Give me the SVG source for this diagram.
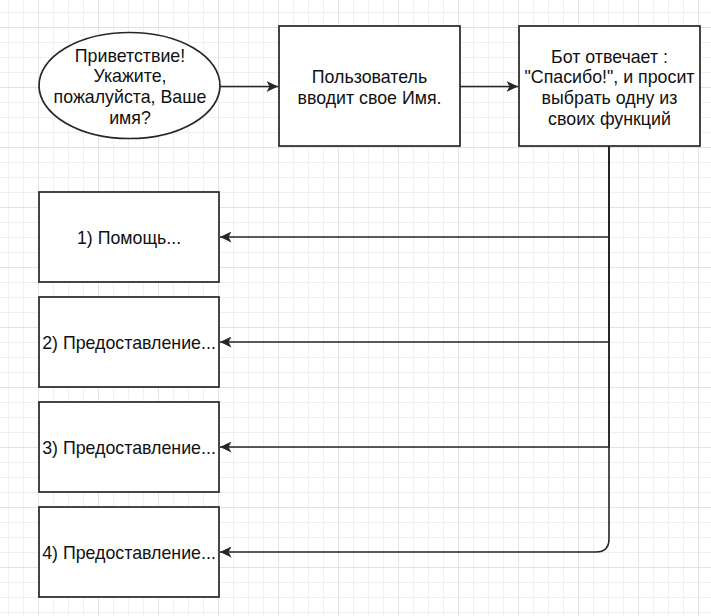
<svg xmlns="http://www.w3.org/2000/svg" width="711" height="616" viewBox="0 0 711 616">
<style>
.shape{fill:#ffffff;stroke:#262626;stroke-width:1.7}
.lbl{font-family:"Liberation Sans",Arial,sans-serif;font-size:17.8px;fill:#111111;text-anchor:middle}
.edge{fill:none;stroke:#262626;stroke-width:1.6}
</style>
<defs>
<pattern id="gMinor" x="8" y="12" width="15" height="15" patternUnits="userSpaceOnUse">
<rect x="0" y="0" width="1" height="15" fill="#efefef"/>
<rect x="0" y="0" width="15" height="1" fill="#efefef"/>
</pattern>
<pattern id="gMajor" x="38" y="27" width="60" height="60" patternUnits="userSpaceOnUse">
<rect x="0" y="0" width="1" height="60" fill="#e3e3e3"/>
<rect x="0" y="0" width="60" height="1" fill="#e3e3e3"/>
</pattern>
<marker id="arrow" viewBox="0 0 12 11" refX="11.5" refY="5.5" markerWidth="12" markerHeight="11" markerUnits="userSpaceOnUse" orient="auto">
<path d="M11.5,5.5 L0,0 L3,5.5 L0,11 Z" fill="#262626"/>
</marker>
</defs>
<rect width="711" height="616" fill="#ffffff"/>
<rect width="711" height="616" fill="url(#gMinor)"/>
<rect width="711" height="616" fill="url(#gMajor)"/>

<g id="connectors">
<path class="edge" d="M220,86.5 H278" marker-end="url(#arrow)"/>
<path class="edge" d="M460,86.5 H518" marker-end="url(#arrow)"/>
<path class="edge" d="M609,146 V237 H220" marker-end="url(#arrow)"/>
<path class="edge" d="M609,146 V342 H220" marker-end="url(#arrow)"/>
<path class="edge" d="M609,146 V447 H220" marker-end="url(#arrow)"/>
<path class="edge" d="M609,146 V539 Q609,552 596,552 H220" marker-end="url(#arrow)"/>
</g>

<g id="node-greeting">
<ellipse class="shape" cx="129.5" cy="85.5" rx="90.5" ry="53"/>
<text class="lbl" x="130" y="61.7">Приветствие!</text>
<text class="lbl" x="130" y="82.4">Укажите,</text>
<text class="lbl" x="130" y="103.1">пожалуйста, Ваше</text>
<text class="lbl" x="130" y="123.8">имя?</text>
</g>

<g id="node-user">
<rect class="shape" x="279" y="26" width="181" height="120"/>
<text class="lbl" x="369.5" y="83">Пользователь</text>
<text class="lbl" x="369.5" y="104">вводит свое Имя.</text>
</g>

<g id="node-bot">
<rect class="shape" x="519" y="26" width="181" height="120"/>
<text class="lbl" x="609.5" y="62.5">Бот отвечает :</text>
<text class="lbl" x="609.5" y="83.2">"Спасибо!", и просит</text>
<text class="lbl" x="609.5" y="103.9">выбрать одну из</text>
<text class="lbl" x="609.5" y="124.6">своих функций</text>
</g>

<g id="node-f1">
<rect class="shape" x="39" y="192" width="180" height="90"/>
<text class="lbl" x="129" y="244">1) Помощь...</text>
</g>

<g id="node-f2">
<rect class="shape" x="39" y="297" width="180" height="90"/>
<text class="lbl" x="129" y="349">2) Предоставление...</text>
</g>

<g id="node-f3">
<rect class="shape" x="39" y="402" width="180" height="90"/>
<text class="lbl" x="129" y="454">3) Предоставление...</text>
</g>

<g id="node-f4">
<rect class="shape" x="39" y="507" width="180" height="90"/>
<text class="lbl" x="129" y="559">4) Предоставление...</text>
</g>
</svg>
